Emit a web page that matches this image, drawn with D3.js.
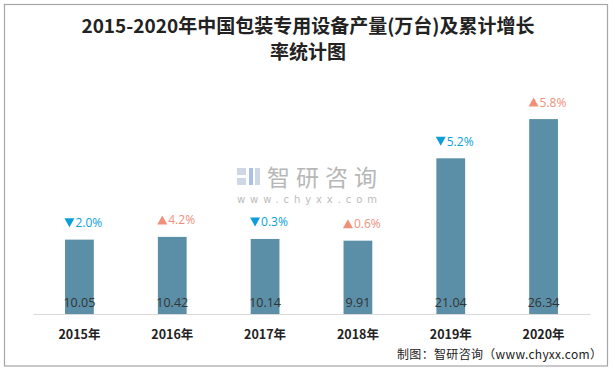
<!DOCTYPE html>
<html><head><meta charset="utf-8">
<script src="https://cdn.jsdelivr.net/npm/d3@7"></script>
<style>body{margin:0;background:#fff}svg{display:block}</style>
</head><body>
<script>
const categories = ["2015年","2016年","2017年","2018年","2019年","2020年"];
const values = [10.05, 10.42, 10.14, 9.91, 21.04, 26.34];
const growthRates = [2.0, 4.2, 0.3, 0.6, 5.2, 5.8];
const growthDirections = ["down","up","down","up","down","up"];
const titleLines = ["2015-2020年中国包装专用设备产量(万台)及累计增长","率统计图"];
const sourceText = "制图：智研咨询（www.chyxx.com）";

const W = 615, H = 369;
const svg = d3.select("body").append("svg").attr("width", W).attr("height", H);

svg.append("rect").attr("x", 4.5).attr("y", 4.5).attr("width", 603).attr("height", 361.5)
  .attr("fill", "#fff").attr("stroke", "#a6a6a6").attr("stroke-width", 1.2);

svg.selectAll("text.title").data(titleLines).join("text")
  .attr("class", "title").attr("x", 308).attr("y", (d, i) => 33 + i * 26)
  .attr("text-anchor", "middle")
  .style("font-family", "'Noto Sans CJK SC', sans-serif").style("font-weight", "bold")
  .style("font-size", "19px").attr("fill", "#222").text(d => d);

// watermark
const wm = svg.append("g").attr("opacity", 0.9);
wm.append("rect").attr("x", 237).attr("y", 168).attr("width", 9).attr("height", 7).attr("fill", "#c9d3e3");
wm.append("rect").attr("x", 237).attr("y", 178).attr("width", 9).attr("height", 7).attr("fill", "#c9d3e3");
wm.append("rect").attr("x", 249).attr("y", 168).attr("width", 4).attr("height", 17).attr("fill", "#9fbbe0");
wm.append("rect").attr("x", 255).attr("y", 168).attr("width", 5).attr("height", 17).attr("fill", "#c9d3e3");
wm.append("text").attr("x", 267).attr("y", 186)
  .style("font-family", "'Noto Sans CJK SC', sans-serif").style("font-size", "23px")
  .attr("fill", "#b0b0b0").attr("textLength", 110).text("智研咨询");
wm.append("text").attr("x", 237).attr("y", 203)
  .style("font-family", "'DejaVu Sans', sans-serif").style("font-size", "10px")
  .attr("fill", "#b5b5b5").attr("textLength", 140).text("www.chyxx.com");

const x = d3.scaleBand().domain(categories).range([33, 590]).paddingInner(0.69).paddingOuter(0.345);
const y = d3.scaleLinear().domain([0, 30]).range([314, 92]);

svg.append("g").selectAll("rect").data(values).join("rect")
  .attr("x", (d, i) => x(categories[i])).attr("width", x.bandwidth())
  .attr("y", d => y(d)).attr("height", d => y(0) - y(d))
  .attr("fill", "#5b8fa7");

const xAxis = svg.append("g").attr("transform", `translate(0,${y(0)})`)
  .call(d3.axisBottom(x).tickSize(0).tickPadding(16));
xAxis.select(".domain").attr("stroke", "#d9d9d9").attr("stroke-width", 1.2);
xAxis.selectAll("text").style("font-family", "'Noto Sans CJK SC', sans-serif")
  .style("font-weight", "bold").style("font-size", "12.5px").attr("fill", "#222");

svg.append("g").selectAll("text").data(values).join("text")
  .attr("x", (d, i) => x(categories[i]) + x.bandwidth() / 2).attr("y", 307)
  .attr("text-anchor", "middle")
  .style("font-family", "'Open Sans', sans-serif").style("font-size", "12.5px")
  .attr("fill", "#333").text(d => d.toFixed(2));

const gl = svg.append("g").selectAll("g").data(growthRates).join("g")
  .attr("transform", (d, i) => `translate(${x(categories[i]) + x.bandwidth() / 2 + 3},${y(values[i]) - 17})`);
gl.append("path")
  .attr("d", (d, i) => growthDirections[i] === "up" ? "M-18,4.5 L-13,-4.5 L-8,4.5 Z" : "M-18,-4.5 L-13,4.5 L-8,-4.5 Z")
  .attr("fill", (d, i) => growthDirections[i] === "up" ? "#f0907b" : "#0a9fd8");
gl.append("text").attr("x", -7).attr("y", 4.5)
  .style("font-family", "'Open Sans', sans-serif").style("font-size", "12px")
  .attr("fill", (d, i) => growthDirections[i] === "up" ? "#f0907b" : "#0a9fd8")
  .text(d => d.toFixed(1) + "%");

svg.append("text").attr("x", 602).attr("y", 359).attr("text-anchor", "end")
  .style("font-family", "'Noto Sans CJK SC', sans-serif").style("font-size", "12px")
  .attr("fill", "#222").attr("textLength", 205).text(sourceText);
</script>
</body></html>
